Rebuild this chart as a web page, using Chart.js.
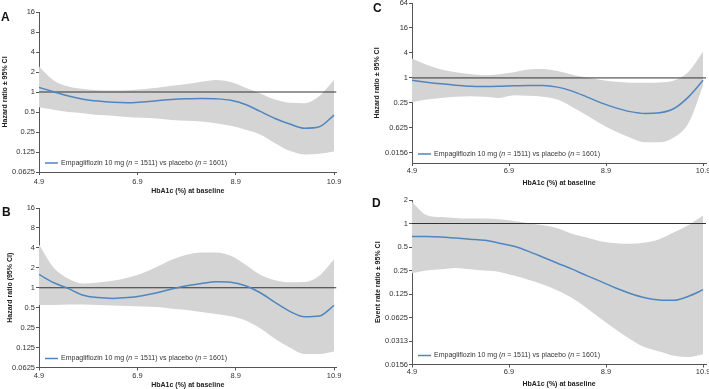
<!DOCTYPE html>
<html>
<head>
<meta charset="utf-8">
<script src="https://cdn.jsdelivr.net/npm/chart.js@4.4.0/dist/chart.umd.min.js"></script>
<style>
  body { margin: 0; background: #fff; width: 709px; height: 389px; position: relative; overflow: hidden; }
  .panel { position: absolute; }
</style>
</head>
<body>
<div class="panel" style="left:0;top:0"><canvas id="chartA" width="352" height="195"></canvas></div>
<div class="panel" style="left:0;top:195px"><canvas id="chartB" width="352" height="194"></canvas></div>
<div class="panel" style="left:355px;top:0"><canvas id="chartC" width="354" height="195"></canvas></div>
<div class="panel" style="left:355px;top:195px"><canvas id="chartD" width="354" height="194"></canvas></div>
<script>
// HbA1c (%) at baseline
const hba1c = [4.9, 5.2, 5.5, 5.8, 6.1, 6.4, 6.7, 7.0, 7.3, 7.6, 7.9, 8.2, 8.5, 8.8, 9.1, 9.4, 9.7, 10.0, 10.3, 10.6, 10.9];
const xTicks = [4.9, 6.9, 8.9, 10.9];

// A
const aMid   = [1.17, 1.01, 0.87, 0.78, 0.73, 0.70, 0.69, 0.71, 0.74, 0.77, 0.79, 0.80, 0.79, 0.75, 0.65, 0.51, 0.40, 0.33, 0.285, 0.30, 0.45];
const aUpper = [2.41, 1.49, 1.21, 1.11, 1.06, 1.05, 1.06, 1.10, 1.16, 1.24, 1.32, 1.43, 1.52, 1.41, 1.16, 0.95, 0.77, 0.69, 0.68, 0.87, 1.52];
const aLower = [0.59, 0.54, 0.50, 0.48, 0.45, 0.44, 0.42, 0.41, 0.40, 0.38, 0.37, 0.36, 0.34, 0.31, 0.27, 0.23, 0.17, 0.13, 0.115, 0.118, 0.127];

// B
const bMid   = [1.59, 1.19, 0.97, 0.77, 0.71, 0.69, 0.71, 0.76, 0.84, 0.96, 1.07, 1.16, 1.23, 1.21, 1.07, 0.84, 0.60, 0.44, 0.365, 0.375, 0.54];
const bUpper = [4.5, 2.0, 1.37, 1.16, 1.2, 1.27, 1.41, 1.65, 2.07, 2.64, 3.14, 3.41, 3.41, 3.03, 2.22, 1.57, 1.30, 1.21, 1.22, 1.52, 2.7];
const bLower = [0.55, 0.55, 0.56, 0.56, 0.55, 0.54, 0.53, 0.52, 0.51, 0.48, 0.46, 0.43, 0.40, 0.37, 0.32, 0.245, 0.17, 0.125, 0.10, 0.10, 0.109];

// C
const cMid   = [0.88, 0.79, 0.72, 0.67, 0.63, 0.62, 0.63, 0.65, 0.66, 0.66, 0.60, 0.48, 0.35, 0.25, 0.19, 0.154, 0.139, 0.144, 0.183, 0.35, 0.88];
const cUpper = [2.93, 2.07, 1.6, 1.38, 1.25, 1.16, 1.23, 1.37, 1.6, 1.65, 1.46, 1.19, 1.02, 0.89, 0.81, 0.77, 0.76, 0.78, 0.87, 1.41, 4.3];
const cLower = [0.26, 0.30, 0.33, 0.35, 0.36, 0.35, 0.33, 0.38, 0.37, 0.35, 0.30, 0.20, 0.126, 0.077, 0.051, 0.036, 0.028, 0.028, 0.037, 0.082, 0.66];

// D
const dMid   = [0.68, 0.68, 0.67, 0.65, 0.63, 0.61, 0.56, 0.51, 0.44, 0.37, 0.31, 0.26, 0.215, 0.18, 0.149, 0.127, 0.112, 0.105, 0.104, 0.117, 0.142];
const dUpper = [1.89, 1.28, 1.21, 1.18, 1.16, 1.16, 1.13, 1.08, 1.01, 0.95, 0.87, 0.74, 0.66, 0.59, 0.56, 0.55, 0.57, 0.63, 0.77, 0.96, 1.27];
const dLower = [0.23, 0.25, 0.26, 0.27, 0.26, 0.25, 0.24, 0.215, 0.19, 0.165, 0.139, 0.111, 0.083, 0.060, 0.044, 0.033, 0.026, 0.023, 0.0203, 0.0195, 0.0212];

const abTicks = [16, 8, 4, 2, 1, 0.5, 0.25, 0.125, 0.0625];
const abLabels = ['16', '8', '4', '2', '1', '0.5', '0.25', '0.125', '0.0625'];
const cTicks = [64, 16, 4, 1, 0.25, 0.0625, 0.015625];
const cLabels = ['64', '16', '4', '1', '0.25', '0.625', '0.0156'];
const dTicks = [2, 1, 0.5, 0.25, 0.125, 0.0625, 0.03125, 0.015625];
const dLabels = ['2', '1', '0.5', '0.25', '0.125', '0.0625', '0.0313', '0.0156'];

const legendParts = [['Empagliflozin 10 mg (', false], ['n', true], [' = 1511) vs placebo (', false], ['n', true], [' = 1601)', false]];
const xTitle = 'HbA1c (%) at baseline';

const FONT = 'Liberation Sans, Arial, sans-serif';
const BLUE = '#4f86c0';
const BAND = '#d4d4d4';
const AXIS = '#555';

function pts(arr) {
  return hba1c.map((x, i) => ({ x: x, y: arr[i] }));
}

const extrasPlugin = {
  id: 'extras',
  afterDatasetsDraw(chart, args, o) {
    const ctx = chart.ctx;
    const area = chart.chartArea;
    ctx.save();
    // legend
    const y = area.bottom - 9;
    let x = area.left + 6;
    ctx.strokeStyle = BLUE;
    ctx.lineWidth = 1.5;
    ctx.beginPath();
    ctx.moveTo(x, y);
    ctx.lineTo(x + 13, y);
    ctx.stroke();
    x += 16;
    ctx.fillStyle = '#333';
    ctx.textBaseline = 'middle';
    legendParts.forEach(p => {
      ctx.font = (p[1] ? 'italic ' : '') + '7px ' + FONT;
      ctx.fillText(p[0], x, y);
      x += ctx.measureText(p[0]).width;
    });
    // panel letter
    ctx.fillStyle = '#111';
    ctx.font = 'bold 12px ' + FONT;
    ctx.textBaseline = 'alphabetic';
    ctx.fillText(o.letter, o.lx, o.ly);
    ctx.restore();
  }
};

function makePanel(id, p) {
  const canvas = document.getElementById(id);
  const W = canvas.width, H = canvas.height;
  new Chart(canvas, {
    type: 'line',
    data: {
      datasets: [
        { data: pts(p.mid), borderColor: BLUE, borderWidth: 1.5, pointRadius: 0, cubicInterpolationMode: 'monotone', fill: false, order: 0 },
        { data: [{ x: 4.9, y: 1 }, { x: p.xMax, y: 1 }], borderColor: '#333', borderWidth: 1, pointRadius: 0, fill: false, order: 1 },
        { data: pts(p.upper), borderWidth: 0, borderColor: BAND, backgroundColor: BAND, pointRadius: 0, cubicInterpolationMode: 'monotone', fill: '+1', order: 2 },
        { data: pts(p.lower), borderWidth: 0, borderColor: BAND, backgroundColor: BAND, pointRadius: 0, cubicInterpolationMode: 'monotone', fill: false, order: 3 }
      ]
    },
    options: {
      responsive: false,
      animation: false,
      events: [],
      layout: { padding: { top: p.top, right: W - p.right, left: 0, bottom: 0 } },
      plugins: {
        legend: { display: false },
        tooltip: { enabled: false },
        extras: { letter: p.letter, lx: p.lx, ly: p.ly }
      },
      scales: {
        x: {
          type: 'linear',
          min: 4.9,
          max: p.xMax,
          afterBuildTicks: s => { s.ticks = xTicks.map(v => ({ value: v })); },
          afterFit: s => { s.height = H - p.bottom; s.paddingLeft = 0; s.paddingRight = 0; },
          border: { display: true, color: AXIS, width: 1 },
          grid: { drawOnChartArea: false, drawTicks: true, tickLength: 3, color: AXIS },
          ticks: { font: { family: FONT, size: 7.5 }, color: '#333', padding: p.xPad, maxRotation: 0, callback: v => v.toFixed(1) },
          title: { display: true, text: xTitle, font: { family: FONT, size: 7, weight: 'bold' }, color: '#222', padding: { top: 0, bottom: p.xTitlePad } }
        },
        y: {
          type: 'logarithmic',
          min: p.min,
          max: p.max,
          afterBuildTicks: s => { s.ticks = p.ticks.map(v => ({ value: v })); },
          afterFit: s => { s.width = p.left; s.paddingTop = 0; s.paddingBottom = 0; },
          border: { display: true, color: AXIS, width: 1 },
          grid: { drawOnChartArea: false, drawTicks: true, tickLength: 3, color: AXIS },
          ticks: { font: { family: FONT, size: 7.5 }, color: '#333', padding: 1, callback: (v, i) => p.labels[i] },
          title: { display: true, text: p.yTitle, font: { family: FONT, size: 7, weight: 'bold' }, color: '#222', padding: { top: p.yTitlePad, bottom: 0 } }
        }
      }
    },
    plugins: [extrasPlugin]
  });
}

makePanel('chartA', { mid: aMid, upper: aUpper, lower: aLower, min: 0.0625, max: 16, ticks: abTicks, labels: abLabels, xMax: 10.95,
  yTitle: 'Hazard ratio ± 95% CI', letter: 'A', lx: 1, ly: 21, left: 39, top: 12, right: 336.5, bottom: 172, xPad: 2, xTitlePad: 0, yTitlePad: 1 });
makePanel('chartB', { mid: bMid, upper: bUpper, lower: bLower, min: 0.0625, max: 16, ticks: abTicks, labels: abLabels, xMax: 10.95,
  yTitle: 'Hazard ratio (95% CI)', letter: 'B', lx: 2, ly: 21, left: 39, top: 13, right: 336.5, bottom: 172.5, xPad: 1, xTitlePad: 0, yTitlePad: 6 });
makePanel('chartC', { mid: cMid, upper: cUpper, lower: cLower, min: 0.0089, max: 64, ticks: cTicks, labels: cLabels, xMax: 10.96,
  yTitle: 'Hazard ratio ± 95% CI', letter: 'C', lx: 18, ly: 12, left: 57, top: 3, right: 351, bottom: 163, xPad: 0, xTitlePad: 8, yTitlePad: 18 });
makePanel('chartD', { mid: dMid, upper: dUpper, lower: dLower, min: 0.015625, max: 2, ticks: dTicks, labels: dLabels, xMax: 10.96,
  yTitle: 'Event rate ratio ± 95% CI', letter: 'D', lx: 17, ly: 12, left: 57, top: 5, right: 351, bottom: 169.5, xPad: 0, xTitlePad: 1, yTitlePad: 19 });
</script>
</body>
</html>
